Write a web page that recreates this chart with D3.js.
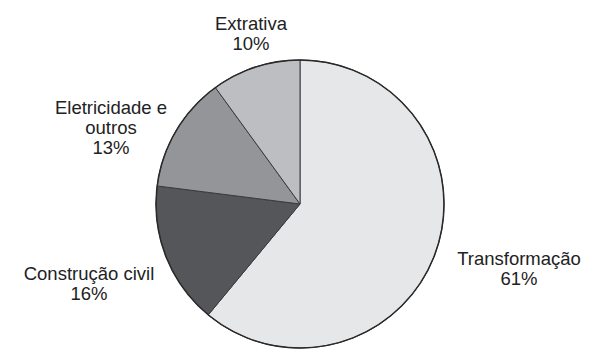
<!DOCTYPE html>
<html>
<head>
<meta charset="utf-8">
<script src="https://cdn.jsdelivr.net/npm/d3@7"></script>
<style>
  html, body { margin: 0; padding: 0; background: #fff; }
  svg { display: block; }
  text { font-family: "Liberation Sans", Arial, sans-serif; fill: #222; }
</style>
</head>
<body>
<svg id="chart" width="601" height="352"></svg>
<script>
// Industry share by sector (percent), drawn clockwise from 12 o'clock
const sectors = ["Transformação", "Construção civil", "Eletricidade e outros", "Extrativa"];
const shares = [61, 16, 13, 10];
const fills = ["#e6e7e9", "#55565a", "#949598", "#bdbec1"];
// Label lines for each sector
const labelLines = [
  ["Transformação", "61%"],
  ["Construção civil", "16%"],
  ["Eletricidade e", "outros", "13%"],
  ["Extrativa", "10%"]
];
// Label anchor points (centre x, first baseline y)
const labelX = [519, 89, 111, 251];
const labelY = [265, 280, 114, 30];

const svg = d3.select("#chart");
const cx = 300, cy = 204, r = 144;

const data = sectors.map((s, i) => ({ sector: s, value: shares[i], fill: fills[i], lines: labelLines[i], lx: labelX[i], ly: labelY[i] }));

const pie = d3.pie().sort(null).value(d => d.value);
const arc = d3.arc().innerRadius(0).outerRadius(r);

const g = svg.append("g").attr("transform", `translate(${cx},${cy})`);

g.selectAll("path.slice")
  .data(pie(data))
  .join("path")
  .attr("class", "slice")
  .attr("d", arc)
  .attr("fill", d => d.data.fill)
  .attr("stroke", "#3a3a3c")
  .attr("stroke-width", 1)
  .attr("stroke-linejoin", "round");

// Outer rim
g.append("circle")
  .attr("r", r)
  .attr("fill", "none")
  .attr("stroke", "#2a2a2a")
  .attr("stroke-width", 1.5);

// Labels
const labels = svg.selectAll("text.lbl")
  .data(data)
  .join("text")
  .attr("class", "lbl")
  .attr("text-anchor", "middle")
  .attr("font-size", 18.5)
  .attr("x", d => d.lx)
  .attr("y", d => d.ly);

labels.selectAll("tspan")
  .data(d => d.lines.map((t, j) => ({ t, j, x: d.lx })))
  .join("tspan")
  .attr("x", d => d.x)
  .attr("dy", d => d.j === 0 ? 0 : 20)
  .text(d => d.t);
</script>
</body>
</html>
